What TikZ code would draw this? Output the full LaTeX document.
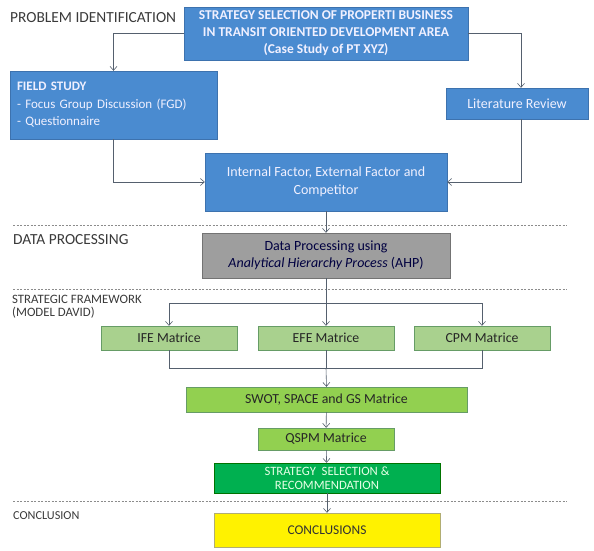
\documentclass[tikz,border=0pt]{standalone}
\usepackage{fontspec}
\setmainfont{Carlito}
\usepackage{xcolor}
\usetikzlibrary{arrows.meta,positioning,calc}
\definecolor{flowblue}{HTML}{4A8BD0}
\definecolor{flowblueline}{HTML}{3D72AE}
\definecolor{ahpgray}{HTML}{9E9E9E}
\definecolor{matrixgreen}{HTML}{A9D18E}
\definecolor{swotgreen}{HTML}{92D050}
\definecolor{selectgreen}{HTML}{00B050}
\definecolor{arrowgray}{HTML}{55606E}
\definecolor{labelgray}{HTML}{3A3A3A}
\tikzset{
  bluebox/.style={draw=flowblueline,fill=flowblue,text=white!94!blue,align=center,
    inner sep=2pt,font=\fontsize{14}{17.5}\selectfont},
  ahpbox/.style={draw=black!55,fill=ahpgray,text=blue!25!black,align=center,
    inner sep=2pt,font=\fontsize{14}{17}\selectfont},
  matrixbox/.style={draw=green!35!black!60,fill=matrixgreen,text=black!85,
    minimum width=136,minimum height=24,inner sep=1pt,font=\fontsize{13.8}{15}\selectfont},
  swotbox/.style={matrixbox,fill=swotgreen},
  selectbox/.style={draw=green!45!black,fill=selectgreen,text=white!90!green,align=center,
    minimum width=226,minimum height=30,inner sep=1pt,font=\fontsize{12.7}{14.5}\selectfont},
  conclbox/.style={draw=yellow!50!black!70,fill=yellow,text=black!80,
    minimum width=226,minimum height=34,font=\fontsize{13.4}{15}\selectfont},
  flowarrow/.style={-{Straight Barb[length=4pt,width=7pt]},draw=arrowgray,semithick},
  flowline/.style={draw=arrowgray,semithick},
  sectionlabel/.style={anchor=west,inner sep=0pt,text=labelgray,align=left},
  sepline/.style={draw=black!45,dash pattern=on 2pt off 1.5pt}
}

\begin{document}
\begin{tikzpicture}[x=1pt,y=-1pt]
  \useasboundingbox (0,0) rectangle (594,550);
  % section separators
  \foreach \ysep in {225,289,501}
    \draw[sepline] (13,\ysep) -- (567,\ysep);
  \node[sectionlabel,font=\fontsize{15.4}{17}\selectfont] (lblproblem) at (10,18) {PROBLEM IDENTIFICATION};
  \node[sectionlabel,font=\fontsize{15.4}{17}\selectfont] (lbldata) at (13,240) {DATA PROCESSING};
  \node[sectionlabel,font=\fontsize{12.8}{13.5}\selectfont] (lblframe) at (12,306.5)
    {STRATEGIC FRAMEWORK\\(MODEL DAVID)};
  \node[sectionlabel,font=\fontsize{12.2}{14}\selectfont] (lblconcl) at (13,516) {CONCLUSION};

  % problem identification
  \node[bluebox,minimum width=284,minimum height=53,
    font=\bfseries\fontsize{13.5}{17}\selectfont] (strategy) at (326,33.5)
    {STRATEGY SELECTION OF PROPERTI BUSINESS\\IN TRANSIT ORIENTED DEVELOPMENT AREA\\(Case Study of PT XYZ)};
  \node[bluebox,align=left,text width=193,inner sep=7,minimum height=68,
    font=\fontsize{13}{17.5}\selectfont] (field) at (113.5,105)
    {\textbf{FIELD STUDY}\\- Focus Group Discussion (FGD)\\- Questionnaire};
  \node[bluebox,minimum width=142,minimum height=31] (literature) at (517,103.5) {Literature Review};
  \node[bluebox,minimum width=242,minimum height=58] (factors) at (326,182)
    {Internal Factor, External Factor and\\Competitor};
  \draw[flowarrow] (strategy.west) -| (field.north);
  \draw[flowarrow] (strategy.east) -| ([xshift=4]literature.north);
  \draw[flowarrow] (field.south) |- (factors.west);
  \draw[flowarrow] ([xshift=4]literature.south) |- (factors.east);

  % data processing
  \node[ahpbox,minimum width=248,minimum height=45] (ahp) at (326,255.5)
    {Data Processing using\\\textit{Analytical Hierarchy Process} (AHP)};
  \draw[flowarrow] (factors) -- (ahp);

  % strategic framework
  \node[matrixbox] (ife) at (169,338) {IFE Matrice};
  \node[matrixbox] (efe) at (326,338) {EFE Matrice};
  \node[matrixbox] (cpm) at (482,338) {CPM Matrice};
  \coordinate (split) at (326,303);
  \coordinate (join) at (326,368);
  \draw[flowline] (ahp.south) -- (split);
  \draw[flowarrow] (split) -| (ife.north);
  \draw[flowarrow] (split) -| (cpm.north);
  \draw[flowarrow] (split) -- (efe.north);
  \node[swotbox,minimum width=281,minimum height=25] (swot) at (326.5,399.5)
    {SWOT, SPACE and GS Matrice};
  \node[swotbox,minimum height=22] (qspm) at (326,439) {QSPM Matrice};
  \node[selectbox] (selection) at (327,478) {STRATEGY\ \ SELECTION \&\\RECOMMENDATION};
  \draw[flowline] (ife.south) |- (join);
  \draw[flowline] (cpm.south) |- (join);
  \draw[flowline] (efe.south) -- (join);
  \draw[flowarrow] (join) -- (swot.north);
  \draw[flowarrow] (swot) -- (qspm);
  \draw[flowarrow] (qspm) -- (selection);

  % conclusion
  \node[conclbox] (conclusions) at (327,530) {CONCLUSIONS};
  \draw[flowarrow] (selection) -- (conclusions);
\end{tikzpicture}
\end{document}
